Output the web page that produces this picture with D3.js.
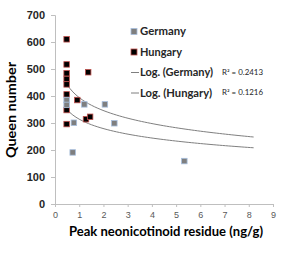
<!DOCTYPE html>
<html>
<head>
<meta charset="utf-8">
<script src="https://cdn.jsdelivr.net/npm/d3@7"></script>
<style>
html,body{margin:0;padding:0;background:#fff;}
svg{display:block;font-family:Lato, "Open Sans", sans-serif;}
</style>
</head>
<body>
<svg id="chart" width="300" height="261"></svg>
<script>
// Data
const germanyX = [0.48, 0.48, 0.78, 0.73, 1.21, 2.06, 2.45, 5.34];
const germanyY = [385, 367, 301, 191, 369, 369, 299, 159];
const hungaryX = [0.48, 0.48, 0.48, 0.48, 0.48, 0.48, 0.48, 0.48, 1.37, 0.92, 1.28, 1.45];
const hungaryY = [610, 517, 484, 463, 443, 406, 348, 296, 488, 385, 314, 323];
const xTicks = [0, 1, 2, 3, 4, 5, 6, 7, 8, 9];
const yTicks = [0, 100, 200, 300, 400, 500, 600, 700];
const seriesNames = ["Germany", "Hungary"];
const trendNames = ["Log. (Germany)", "Log. (Hungary)"];
const rSquared = ["R² = 0.2413", "R² = 0.1216"];
const trendEnd = 8.2;

const svg = d3.select("#chart");
const x = d3.scaleLinear().domain([0, 9]).range([55, 273]);
const y = d3.scaleLinear().domain([0, 700]).range([204, 15]);

// axes
const yAxis = d3.axisLeft(y).tickValues(yTicks).tickSize(4).tickPadding(6);
const gy = svg.append("g").attr("transform", "translate(55,0)").call(yAxis);
gy.select(".domain").attr("stroke", "#bfbfbf").attr("stroke-width", 1);
gy.selectAll(".tick line").attr("stroke", "#bfbfbf");
gy.selectAll(".tick text").attr("fill", "#262626").style("font-size", "11px").style("font-weight", "bold").attr("font-family", null);

const xAxis = d3.axisBottom(x).tickValues(xTicks).tickSize(3).tickPadding(5).tickSizeOuter(3);
const gx = svg.append("g").attr("transform", "translate(0,204)").call(xAxis);
gx.select(".domain").attr("stroke", "#bfbfbf").attr("stroke-width", 1);
gx.selectAll(".tick line").attr("stroke", "#bfbfbf");
gx.selectAll(".tick text").attr("fill", "#595959").style("font-size", "9px").attr("font-family", null);

// log trend lines computed from the data
function logFit(xs, ys) {
  const lx = xs.map(Math.log);
  const mx = d3.mean(lx), my = d3.mean(ys);
  let sxy = 0, sxx = 0;
  lx.forEach((v, i) => { sxy += (v - mx) * (ys[i] - my); sxx += (v - mx) * (v - mx); });
  const a = sxy / sxx, b = my - a * mx;
  return t => a * Math.log(t) + b;
}
const line = d3.line().x(d => x(d[0])).y(d => y(d[1]));
[[germanyX, germanyY], [hungaryX, hungaryY]].forEach(([xs, ys]) => {
  const f = logFit(xs, ys);
  const x0 = d3.min(xs);
  const pts = d3.range(0, 61).map(i => { const t = x0 + (trendEnd - x0) * i / 60; return [t, f(t)]; });
  svg.append("path").attr("d", line(pts)).attr("fill", "none").attr("stroke", "#7f7f7f").attr("stroke-width", 1);
});

// markers
const ms = 5.5;
function drawSeries(xs, ys, fill, stroke) {
  svg.append("g").selectAll("rect").data(xs.map((v, i) => [v, ys[i]])).join("rect")
    .attr("x", d => x(d[0]) - ms / 2).attr("y", d => y(d[1]) - ms / 2)
    .attr("width", ms).attr("height", ms)
    .attr("fill", fill).attr("stroke", stroke).attr("stroke-width", 0.8);
}
drawSeries(hungaryX, hungaryY, "#000000", "#c0504d");
drawSeries(germanyX, germanyY, "#7f7f7f", "#a7bfde");

// legend
const lg = svg.append("g");
const ly = [31.5, 52, 72.5, 93];
const lw = [46, 42, 73, 72];
lg.append("rect").attr("x", 131).attr("y", ly[0] - 3).attr("width", 6).attr("height", 6).attr("fill", "#7f7f7f").attr("stroke", "#a7bfde").attr("stroke-width", 0.8);
lg.append("rect").attr("x", 131).attr("y", ly[1] - 3).attr("width", 6).attr("height", 6).attr("fill", "#000").attr("stroke", "#c0504d").attr("stroke-width", 0.8);
[2, 3].forEach(i => lg.append("line").attr("x1", 131).attr("x2", 139).attr("y1", ly[i]).attr("y2", ly[i]).attr("stroke", "#7f7f7f").attr("stroke-width", 1));
const labels = [seriesNames[0], seriesNames[1], trendNames[0], trendNames[1]];
labels.forEach((t, i) => lg.append("text").attr("x", 140).attr("y", ly[i]).attr("dy", "0.35em")
  .attr("fill", "#262626").style("font-size", "10.5px").style("font-weight", "bold")
  .attr("textLength", lw[i]).attr("lengthAdjust", "spacingAndGlyphs").text(t));
rSquared.forEach((t, i) => lg.append("text").attr("x", 222).attr("y", ly[i + 2]).attr("dy", "0.35em")
  .attr("fill", "#262626").style("font-size", "7px")
  .attr("textLength", 41).attr("lengthAdjust", "spacingAndGlyphs").text(t));

// axis titles
svg.append("text").attr("x", 166).attr("y", 232).attr("dy", "0.35em").attr("text-anchor", "middle")
  .attr("fill", "#000").style("font-size", "12.5px").style("font-weight", "bold")
  .attr("textLength", 194).attr("lengthAdjust", "spacingAndGlyphs")
  .text("Peak neonicotinoid residue (ng/g)");
svg.append("text").attr("transform", "translate(12,110) rotate(-90)").attr("dy", "0.35em").attr("text-anchor", "middle")
  .attr("fill", "#000").style("font-size", "12.5px").style("font-weight", "bold")
  .attr("textLength", 96).attr("lengthAdjust", "spacingAndGlyphs")
  .text("Queen number");
</script>
</body>
</html>
